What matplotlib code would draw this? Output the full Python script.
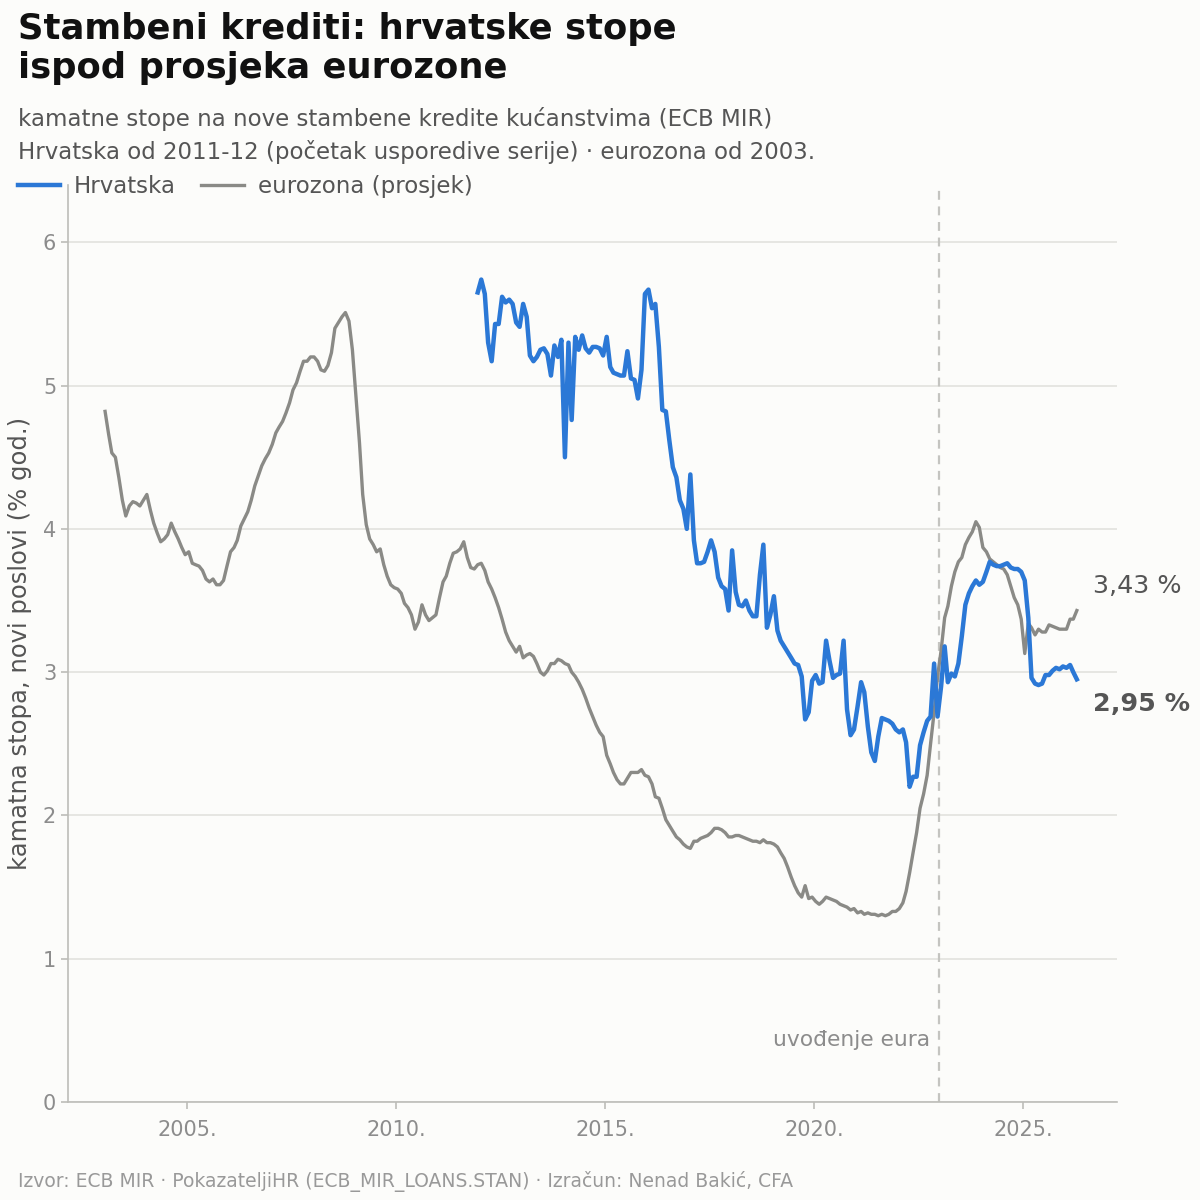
import matplotlib.pyplot as plt
import matplotlib.dates as mdates
import pandas as pd

# boje
plava = '#2b78d6'
siva = '#8a8a86'
tekst = '#555555'
svijetla = '#8c8c8c'
pozadina = '#fcfcfa'

# Hrvatska: mjesecno od 2011-12
hr_start = '2011-12-01'
hr_stope = [
    5.65, 5.74, 5.64, 5.30, 5.17, 5.43, 5.43, 5.62, 5.58, 5.60, 5.57, 5.44,
    5.41, 5.57, 5.48, 5.21, 5.17, 5.20, 5.25, 5.26, 5.22, 5.07, 5.28, 5.20,
    5.32, 4.50, 5.30, 4.76, 5.34, 5.25, 5.35, 5.26, 5.23, 5.27, 5.27, 5.26,
    5.21, 5.34, 5.13, 5.09, 5.08, 5.07, 5.07, 5.24, 5.05, 5.04, 4.91, 5.11,
    5.64, 5.67, 5.54, 5.57, 5.27, 4.83, 4.82, 4.62, 4.43, 4.36, 4.20, 4.14,
    4.00, 4.38, 3.92, 3.76, 3.76, 3.77, 3.84, 3.92, 3.84, 3.66, 3.60, 3.58,
    3.43, 3.85, 3.56, 3.47, 3.46, 3.50, 3.43, 3.39, 3.39, 3.68, 3.89, 3.31,
    3.40, 3.53, 3.29, 3.22, 3.18, 3.14, 3.10, 3.06, 3.05, 2.97, 2.67, 2.72,
    2.94, 2.98, 2.92, 2.93, 3.22, 3.08, 2.96, 2.98, 2.99, 3.22, 2.74, 2.56,
    2.60, 2.76, 2.93, 2.86, 2.62, 2.44, 2.38, 2.55, 2.68, 2.67, 2.66, 2.64,
    2.60, 2.58, 2.60, 2.51, 2.20, 2.27, 2.27, 2.49, 2.58, 2.66, 2.69, 3.06,
    2.69, 2.90, 3.18, 2.93, 2.99, 2.97, 3.06, 3.25, 3.47, 3.55, 3.60, 3.64,
    3.61, 3.63, 3.70, 3.77, 3.75, 3.74, 3.74, 3.75, 3.76, 3.73, 3.72, 3.72,
    3.70, 3.64, 3.38, 2.96, 2.92, 2.91, 2.92, 2.98, 2.98, 3.01, 3.03, 3.02,
    3.04, 3.03, 3.05, 3.00, 2.95,
]

# eurozona: mjesecno od 2003-01
ez_start = '2003-01-01'
ez_stope = [
    4.82, 4.66, 4.53, 4.50, 4.36, 4.20, 4.09, 4.16, 4.19, 4.18, 4.16, 4.20,
    4.24, 4.13, 4.04, 3.97, 3.91, 3.93, 3.96, 4.04, 3.98, 3.93, 3.87, 3.82,
    3.84, 3.76, 3.75, 3.74, 3.71, 3.65, 3.63, 3.65, 3.61, 3.61, 3.64, 3.74,
    3.84, 3.87, 3.92, 4.02, 4.07, 4.12, 4.20, 4.30, 4.37, 4.44, 4.49, 4.53,
    4.59, 4.67, 4.71, 4.75, 4.81, 4.88, 4.97, 5.02, 5.10, 5.17, 5.17, 5.20,
    5.20, 5.17, 5.11, 5.10, 5.14, 5.23, 5.40, 5.44, 5.48, 5.51, 5.45, 5.25,
    4.93, 4.60, 4.24, 4.03, 3.93, 3.89, 3.84, 3.86, 3.75, 3.67, 3.61, 3.59,
    3.58, 3.55, 3.48, 3.45, 3.40, 3.30, 3.35, 3.47, 3.40, 3.36, 3.38, 3.40,
    3.52, 3.63, 3.67, 3.76, 3.83, 3.84, 3.86, 3.91, 3.80, 3.73, 3.72, 3.75,
    3.76, 3.71, 3.63, 3.58, 3.52, 3.45, 3.37, 3.28, 3.22, 3.18, 3.14, 3.18,
    3.10, 3.12, 3.13, 3.11, 3.06, 3.00, 2.98, 3.01, 3.06, 3.06, 3.09, 3.08,
    3.06, 3.05, 3.00, 2.97, 2.93, 2.88, 2.82, 2.75, 2.69, 2.63, 2.58, 2.55,
    2.42, 2.36, 2.30, 2.25, 2.22, 2.22, 2.26, 2.30, 2.30, 2.30, 2.32, 2.28,
    2.27, 2.22, 2.13, 2.12, 2.05, 1.97, 1.93, 1.89, 1.85, 1.83, 1.80, 1.78,
    1.77, 1.82, 1.82, 1.84, 1.85, 1.86, 1.88, 1.91, 1.91, 1.90, 1.88, 1.85,
    1.85, 1.86, 1.86, 1.85, 1.84, 1.83, 1.82, 1.82, 1.81, 1.83, 1.81, 1.81,
    1.80, 1.78, 1.74, 1.70, 1.64, 1.57, 1.51, 1.46, 1.43, 1.51, 1.42, 1.43,
    1.40, 1.38, 1.40, 1.43, 1.42, 1.41, 1.40, 1.38, 1.37, 1.36, 1.34, 1.35,
    1.32, 1.33, 1.31, 1.32, 1.31, 1.31, 1.30, 1.31, 1.30, 1.31, 1.33, 1.33,
    1.35, 1.39, 1.47, 1.60, 1.74, 1.88, 2.05, 2.15, 2.28, 2.50, 2.72, 2.97,
    3.15, 3.38, 3.46, 3.60, 3.70, 3.77, 3.80, 3.89, 3.94, 3.98, 4.05, 4.01,
    3.87, 3.84, 3.79, 3.77, 3.75, 3.73, 3.72, 3.68, 3.60, 3.52, 3.47, 3.37,
    3.13, 3.34, 3.31, 3.26, 3.30, 3.28, 3.28, 3.33, 3.32, 3.31, 3.30, 3.30,
    3.30, 3.37, 3.37, 3.43,
]

uvodenje_eura = pd.Timestamp('2023-01-01')

# tocke crtamo sredinom mjeseca
pomak = pd.Timedelta(days=14)
hr_datumi = pd.date_range(hr_start, periods=len(hr_stope), freq='MS') + pomak
ez_datumi = pd.date_range(ez_start, periods=len(ez_stope), freq='MS') + pomak

plt.rcParams['font.family'] = 'DejaVu Sans'

fig = plt.figure(figsize=(12, 12), dpi=100, facecolor=pozadina)
ax = fig.add_axes([68 / 1200, 1 - 1102 / 1200, 1049 / 1200, 917 / 1200])
ax.set_facecolor(pozadina)

ax.plot(ez_datumi, ez_stope, color=siva, lw=2.4, label='eurozona (prosjek)', zorder=3)
ax.plot(hr_datumi, hr_stope, color=plava, lw=3.2, label='Hrvatska', zorder=4)

# uvodenje eura
ax.axvline(uvodenje_eura, color='#c4c4c0', lw=1.6, ls=(0, (4, 3)), zorder=2)
ax.annotate('uvođenje eura', xy=(uvodenje_eura, 0.43), xytext=(-7, 0),
            textcoords='offset points', ha='right', va='center',
            fontsize=15.7, color=svijetla)

# oznake zadnjih vrijednosti
ez_zadnja = ez_stope[-1]
hr_zadnja = hr_stope[-1]
x_oznaka = pd.Timestamp('2026-09-01')
ax.text(x_oznaka, ez_zadnja + 0.17, f'{ez_zadnja:.2f} %'.replace('.', ','),
        fontsize=18.3, color=tekst, va='center', ha='left')
ax.text(x_oznaka, hr_zadnja - 0.17, f'{hr_zadnja:.2f} %'.replace('.', ','),
        fontsize=18.3, color=tekst, va='center', ha='left', fontweight='bold')

# osi
ax.set_xlim(pd.Timestamp('2002-02-25'), pd.Timestamp('2027-04-01'))
ax.set_ylim(0, 6.4)
ax.set_yticks(range(0, 7))
ax.xaxis.set_major_locator(mdates.YearLocator(5))
ax.xaxis.set_major_formatter(mdates.DateFormatter('%Y.'))
ax.grid(axis='y', color='#e2e2de', lw=1.2, zorder=0)
ax.set_axisbelow(True)
for s in ['top', 'right']:
    ax.spines[s].set_visible(False)
for s in ['left', 'bottom']:
    ax.spines[s].set_color('#bdbdb8')
    ax.spines[s].set_linewidth(1.2)
ax.tick_params(axis='both', colors='#bdbdb8', labelcolor=svijetla,
               labelsize=15, length=5, width=1.2)
ax.tick_params(axis='x', pad=8)
ax.set_ylabel('kamatna stopa, novi poslovi (% god.)', fontsize=17.5, color=tekst)
ax.yaxis.set_label_coords(-0.034, 0.5)

# naslov i podnaslov
fig.text(0.015, 1 - 12 / 1200, 'Stambeni krediti: hrvatske stope\nispod prosjeka eurozone',
         fontsize=25.5, fontweight='bold', color='#111111', va='top', ha='left',
         linespacing=1.2)
fig.text(0.015, 1 - 119 / 1200, 'kamatne stope na nove stambene kredite kućanstvima (ECB MIR)',
         fontsize=16.5, color=tekst, va='center', ha='left')
fig.text(0.015, 1 - 152 / 1200,
         'Hrvatska od 2011-12 (početak usporedive serije) · eurozona od 2003.',
         fontsize=16.5, color=tekst, va='center', ha='left')

# legenda iznad grafa
h, l = ax.get_legend_handles_labels()
fig.legend(h[::-1], l[::-1], loc='center left', bbox_to_anchor=(0.015, 1 - 187 / 1200),
           ncol=2, frameon=False, fontsize=16.5, handlelength=1.85, handletextpad=0.6,
           columnspacing=1.1, borderpad=0, borderaxespad=0, labelcolor=tekst)

fig.text(0.015, 1 - 1182 / 1200,
         'Izvor: ECB MIR · PokazateljiHR (ECB_MIR_LOANS.STAN) · Izračun: Nenad Bakić, CFA',
         fontsize=13.5, color='#999999', va='center', ha='left')

fig.savefig('out.png', dpi=100, facecolor=pozadina)
